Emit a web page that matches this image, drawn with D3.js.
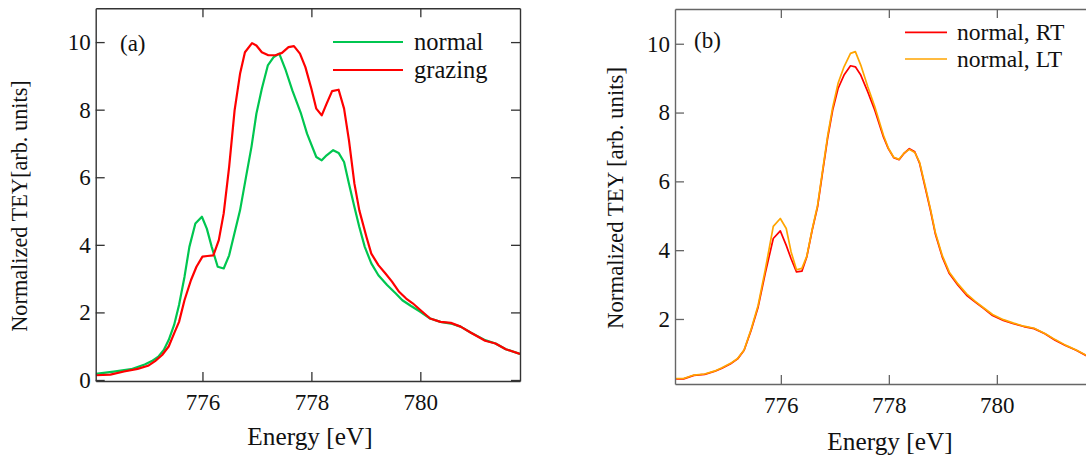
<!DOCTYPE html>
<html><head><meta charset="utf-8">
<script src="https://cdn.jsdelivr.net/npm/d3@7"></script>
<style>
html,body{margin:0;padding:0;background:#fff;}
</style></head>
<body><svg id="c" width="1086" height="457"></svg>
<script>
// ---------- data ----------
const energyDomain = [774.04, 781.83];
const xTicks = [776, 778, 780];
const yTicksA = [0, 2, 4, 6, 8, 10];
const yTicksB = [2, 4, 6, 8, 10];

const normalE = [774.04,774.37,774.69,774.94,775.07,775.19,775.29,775.38,775.48,775.57,775.67,775.76,775.87,775.99,776.08,776.17,776.28,776.39,776.49,776.58,776.69,776.80,776.90,776.99,777.09,777.20,777.31,777.41,777.53,777.65,777.81,777.92,778.09,778.19,778.28,778.40,778.50,778.60,778.69,778.79,778.88,778.98,779.10,779.23,779.39,779.55,779.67,779.83,780.00,780.18,780.37,780.56,780.74,780.93,781.19,781.38,781.57,781.83];
const normalY = [0.18,0.25,0.32,0.46,0.56,0.69,0.89,1.18,1.63,2.22,3.05,3.94,4.63,4.83,4.48,3.94,3.35,3.30,3.69,4.29,5.02,6.01,6.90,7.88,8.62,9.31,9.56,9.66,9.16,8.57,7.88,7.29,6.60,6.50,6.65,6.80,6.72,6.45,5.81,5.12,4.53,3.94,3.45,3.10,2.81,2.56,2.36,2.19,2.02,1.82,1.72,1.67,1.58,1.40,1.18,1.08,0.91,0.77];

const grazingE = [774.04,774.31,774.56,774.81,775.00,775.13,775.26,775.38,775.48,775.57,775.67,775.79,775.89,776.00,776.09,776.20,776.30,776.39,776.49,776.59,776.69,776.78,776.91,776.99,777.09,777.21,777.34,777.46,777.58,777.68,777.79,777.89,778.00,778.09,778.19,778.28,778.38,778.50,778.60,778.69,778.79,778.88,779.01,779.10,779.23,779.36,779.48,779.61,779.74,779.86,780.00,780.18,780.37,780.56,780.74,780.93,781.19,781.38,781.57,781.83];
const grazingY = [0.14,0.16,0.25,0.33,0.42,0.56,0.74,0.99,1.38,1.72,2.36,2.96,3.35,3.65,3.67,3.69,4.14,4.93,6.31,7.98,9.06,9.70,9.97,9.90,9.70,9.61,9.61,9.68,9.85,9.88,9.66,9.26,8.62,8.03,7.83,8.18,8.55,8.59,8.03,7.09,5.81,5.02,4.24,3.74,3.40,3.15,2.91,2.61,2.41,2.27,2.07,1.82,1.72,1.69,1.58,1.40,1.16,1.08,0.91,0.77];

const tempE = [774.06,774.20,774.39,774.59,774.78,774.91,775.07,775.20,775.32,775.45,775.58,775.71,775.86,775.99,776.10,776.19,776.29,776.39,776.48,776.58,776.68,776.77,776.87,776.96,777.06,777.17,777.29,777.38,777.48,777.61,777.74,777.90,777.99,778.09,778.19,778.28,778.38,778.48,778.57,778.67,778.77,778.86,778.99,779.12,779.28,779.44,779.60,779.76,779.92,780.12,780.31,780.50,780.69,780.89,781.08,781.27,781.47,781.65,781.83];
const rtY = [0.26,0.26,0.36,0.39,0.48,0.57,0.70,0.84,1.09,1.67,2.35,3.32,4.34,4.56,4.14,3.75,3.37,3.39,3.80,4.58,5.26,6.23,7.29,8.07,8.70,9.09,9.36,9.33,9.09,8.60,8.07,7.29,6.95,6.69,6.63,6.81,6.95,6.86,6.52,5.84,5.16,4.48,3.80,3.32,2.98,2.69,2.49,2.30,2.10,1.96,1.86,1.78,1.72,1.57,1.38,1.23,1.09,0.94,0.80];
const ltY = [0.27,0.27,0.37,0.40,0.49,0.58,0.71,0.85,1.10,1.70,2.40,3.42,4.69,4.92,4.63,3.95,3.43,3.47,3.82,4.60,5.30,6.28,7.35,8.15,8.85,9.33,9.72,9.77,9.38,8.75,8.17,7.34,6.97,6.70,6.64,6.82,6.93,6.84,6.55,5.89,5.20,4.52,3.84,3.36,3.02,2.73,2.51,2.32,2.13,1.98,1.88,1.79,1.73,1.58,1.40,1.24,1.10,0.95,0.81];

const legendA = ["normal", "grazing"];
const legendB = ["normal, RT", "normal, LT"];
const colorsA = ["#00c650", "#ff0000"];
const colorsB = ["#ff0000", "#ffa500"];

// ---------- drawing ----------
const FONT = "'Liberation Serif', 'Times New Roman', 'DejaVu Serif', serif";
const svg = d3.select("#c").attr("font-family", FONT);
const FS = 23;

function panel(opt){
  const g = svg.append("g");
  const x = d3.scaleLinear().domain(energyDomain).range([opt.left, opt.right]);
  const y = d3.scaleLinear().domain(opt.yDomain).range([opt.bottom, opt.top]);
  const clipId = "clip" + opt.id;
  svg.append("clipPath").attr("id", clipId).append("rect")
    .attr("x", opt.left).attr("y", opt.top).attr("width", opt.right-opt.left).attr("height", opt.bottom-opt.top);

  const line = d3.line().x(d=>x(d[0])).y(d=>y(d[1]));
  opt.series.forEach((s,i)=>{
    g.append("path").datum(d3.zip(s.e, s.v)).attr("d", line)
      .attr("fill","none").attr("stroke", s.color).attr("stroke-width", opt.lw)
      .attr("stroke-linejoin","round").attr("clip-path", `url(#${clipId})`);
  });

  const ax = (sel)=>{ sel.attr("font-family", FONT).attr("font-size", FS);
    sel.select(".domain").attr("stroke", opt.axisColor).attr("stroke-width",1.4);
    sel.selectAll(".tick line").attr("stroke", opt.axisColor).attr("stroke-width",1.3);
    sel.selectAll(".tick text").attr("fill","#111"); };

  g.append("g").attr("transform",`translate(0,${opt.bottom})`)
    .call(d3.axisBottom(x).tickValues(xTicks).tickFormat(d3.format("d")).tickSizeInner(-9).tickSizeOuter(0).tickPadding(13))
    .call(ax);
  g.append("g").attr("transform",`translate(0,${opt.top})`)
    .call(d3.axisTop(x).tickValues(xTicks).tickFormat("").tickSizeInner(-9).tickSizeOuter(0))
    .call(ax);
  g.append("g").attr("transform",`translate(${opt.left},0)`)
    .call(d3.axisLeft(y).tickValues(opt.yTicks).tickFormat(d3.format("d")).tickSizeInner(-9).tickSizeOuter(0).tickPadding(5))
    .call(ax);
  if (opt.rightAxis){
    g.append("g").attr("transform",`translate(${opt.right},0)`)
      .call(d3.axisRight(y).tickValues(opt.yTicks).tickFormat("").tickSizeInner(-9).tickSizeOuter(0))
      .call(ax);
  }

  g.append("text").attr("x", opt.xlabX).attr("y", opt.xlabY).attr("text-anchor","middle")
    .attr("font-size", 25.3).attr("fill","#111").text("Energy [eV]");
  g.append("text").attr("transform",`translate(${opt.ylabX},${opt.ylabY}) rotate(-90)`)
    .attr("text-anchor","middle").attr("font-size", opt.ylabFS).attr("fill","#111").text(opt.ylab);
  g.append("text").attr("x", opt.tagX).attr("y", opt.tagY).attr("font-size", FS).attr("fill","#111").text(opt.tag);

  opt.legend.forEach((name,i)=>{
    const ly = opt.legY + i*opt.legDy;
    g.append("line").attr("x1", opt.legX1).attr("x2", opt.legX2).attr("y1", ly).attr("y2", ly)
      .attr("stroke", opt.series[i].color).attr("stroke-width", opt.lw);
    g.append("text").attr("x", opt.legTX).attr("y", ly + 8).attr("font-size", opt.legFS).attr("fill","#111").text(name);
  });
}

panel({
  id:"a", left:95.7, right:520, top:8.3, bottom:381, yDomain:[-0.03, 11.0],
  yTicks:yTicksA, rightAxis:true, axisColor:"#333", lw:2.2,
  series:[{e:normalE, v:normalY, color:colorsA[0]},{e:grazingE, v:grazingY, color:colorsA[1]}],
  xlabX:310, xlabY:445, ylabX:27, ylabY:206, ylabFS:22.3, ylab:"Normalized TEY[arb. units]",
  tag:"(a)", tagX:120, tagY:51, legFS:24.5,
  legend:legendA, legX1:333, legX2:403, legY:42, legDy:28, legTX:414
});
panel({
  id:"b", left:675, right:675+7.79*54, top:9, bottom:384, yDomain:[0.11, 11.01],
  yTicks:yTicksB, rightAxis:false, axisColor:"#666", lw:1.7,
  series:[{e:tempE, v:rtY, color:colorsB[0]},{e:tempE, v:ltY, color:colorsB[1]}],
  xlabX:890, xlabY:450, ylabX:623, ylabY:198, ylabFS:22.8, ylab:"Normalized TEY [arb. units]",
  tag:"(b)", tagX:694, tagY:48, legFS:23.6,
  legend:legendB, legX1:905, legX2:947, legY:32.3, legDy:26.7, legTX:957
});
</script></body></html>
